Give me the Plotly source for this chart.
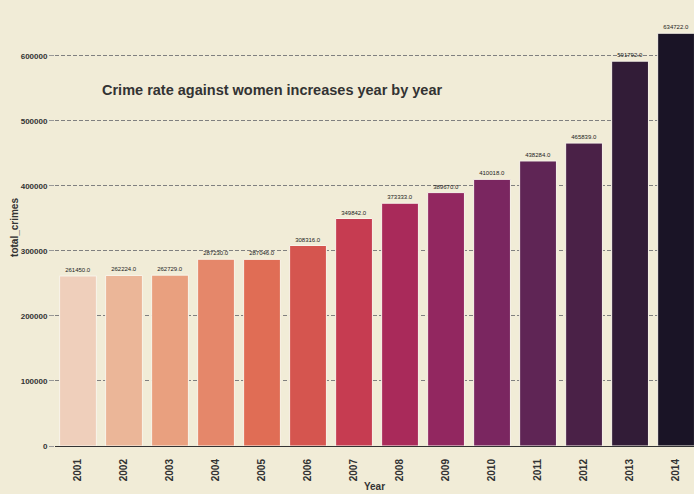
import plotly.graph_objects as go

years = ["2001", "2002", "2003", "2004", "2005", "2006", "2007",
         "2008", "2009", "2010", "2011", "2012", "2013", "2014"]
total_crimes = [261450, 262224, 262729, 287230, 287046, 308316, 349842,
                373333, 389670, 410018, 438284, 465839, 591792, 634722]
bar_colors = ["#efcfbb", "#ebb698", "#e9a07f", "#e5876a", "#e06d55", "#d5554f", "#c63c51",
              "#a92a5a", "#922760", "#7a2660", "#5f2555", "#4a2147", "#321c37", "#1a1426"]
labels = [f"{v:.1f}" for v in total_crimes]
yticks = [0, 100000, 200000, 300000, 400000, 500000, 600000]
bg = "#f1ecd7"

fig = go.Figure(go.Bar(
    x=list(range(len(years))), y=total_crimes,
    marker=dict(color=bar_colors, line=dict(color="#f8f4ea", width=1)),
    width=0.8,
    text=labels, textposition="outside", cliponaxis=False,
    textfont=dict(family="Liberation Sans, Arial", size=6, color="#222222"),
))

fig.update_layout(
    width=694, height=494,
    paper_bgcolor=bg, plot_bgcolor=bg,
    margin=dict(l=55, r=0, t=9, b=48, autoexpand=False),
    showlegend=False,
    font=dict(family="Liberation Sans, Arial", color="#333333"),
    annotations=[dict(
        text="<b>Crime rate against women increases year by year</b>",
        x=0.071, y=0.815, xref="paper", yref="paper", xanchor="left", yanchor="middle",
        showarrow=False, font=dict(size=14.5, color="#333333", family="Liberation Sans, Arial"),
    )],
)
fig.update_xaxes(
    tickmode="array", tickvals=list(range(len(years))), ticktext=[f"<b>{y}</b>" for y in years],
    tickangle=-90, tickfont=dict(size=10, color="#333333"),
    range=[-0.5, 13.39], showgrid=False, showline=True, linecolor="#333333", linewidth=1,
    title=dict(text="<b>Year</b>", font=dict(size=10, color="#333333"), standoff=2),
    ticks="outside", ticklen=8, tickcolor=bg, zeroline=False,
)
fig.update_yaxes(
    range=[0, 672000], tickvals=yticks,
    ticktext=[f"<b>{v}</b>" for v in yticks],
    tickfont=dict(size=8, color="#333333"),
    showgrid=True, gridcolor="#808080", griddash="4px,2px", gridwidth=0.7,
    zeroline=False, ticks="outside", ticklen=5, tickcolor="#999999",
    title=dict(text="<b>total_crimes</b>", font=dict(size=10, color="#333333"), standoff=0),
)

fig.write_html("out.html", config={"displayModeBar": False})

with open("out.html", "r", encoding="utf-8") as f:
    html = f.read()
html = html.replace("<head>", "<head><style>html,body{margin:0;padding:0;background:" + bg + ";overflow:hidden}</style>", 1)
with open("out.html", "w", encoding="utf-8") as f:
    f.write(html)
